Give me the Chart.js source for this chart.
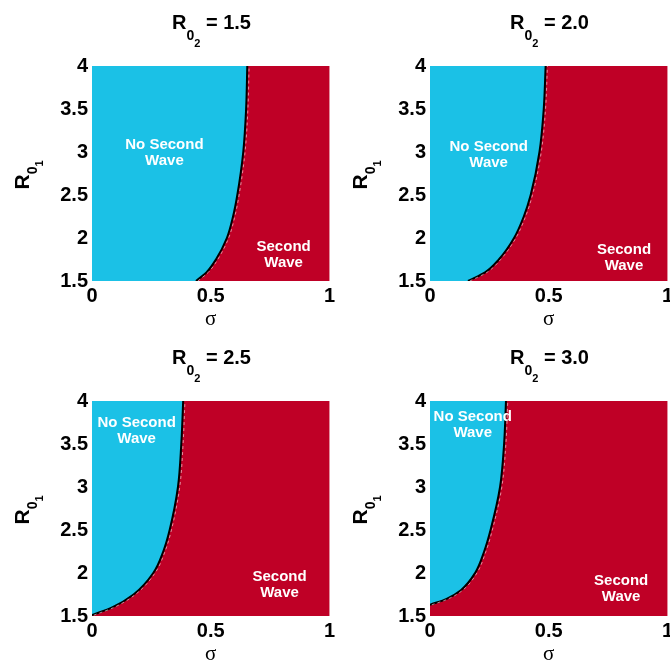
<!DOCTYPE html>
<html lang="en">
<head>
  <meta charset="UTF-8">
  <title>Second wave regions</title>
  <script src="https://cdn.jsdelivr.net/npm/chart.js"></script>
  <style>
    body { margin: 0; background: #fff; width: 670px; height: 666px; overflow: hidden; position: relative;
           font-family: 'Liberation Sans', Arial, sans-serif; }
    .panel { position: absolute; width: 338px; height: 335px; }
    .panel canvas { position: absolute; left: 0; top: 0; }
    .ttl { position: absolute; top: 12px; left: 92px; width: 239px; text-align: center;
           font-weight: bold; font-size: 20px; line-height: 20px; white-space: nowrap; }
    .ylab { position: absolute; left: -8px; top: 162px; width: 60px; height: 26px; line-height: 26px;
            text-align: center; font-weight: bold; font-size: 21px; transform: rotate(-90deg); white-space: nowrap; }
    .s1 { font-size: 14px; position: relative; top: 11px; }
    .s2 { font-size: 11px; position: relative; top: 7px; }
    .ylab .s1 { top: 8px; }
    .ylab .s2 { top: 6px; }
  </style>
</head>
<body>
  <div class="panel" style="left:0;top:0">
    <canvas id="p1" width="338" height="335"></canvas>
    <div class="ttl">R<span class="s1">0<span class="s2">2</span></span> = 1.5</div>
    <div class="ylab">R<span class="s1">0<span class="s2">1</span></span></div>
  </div>
  <div class="panel" style="left:338px;top:0">
    <canvas id="p2" width="338" height="335"></canvas>
    <div class="ttl">R<span class="s1">0<span class="s2">2</span></span> = 2.0</div>
    <div class="ylab">R<span class="s1">0<span class="s2">1</span></span></div>
  </div>
  <div class="panel" style="left:0;top:335px">
    <canvas id="p3" width="338" height="335"></canvas>
    <div class="ttl">R<span class="s1">0<span class="s2">2</span></span> = 2.5</div>
    <div class="ylab">R<span class="s1">0<span class="s2">1</span></span></div>
  </div>
  <div class="panel" style="left:338px;top:335px">
    <canvas id="p4" width="338" height="335"></canvas>
    <div class="ttl">R<span class="s1">0<span class="s2">2</span></span> = 3.0</div>
    <div class="ylab">R<span class="s1">0<span class="s2">1</span></span></div>
  </div>

  <script>
    // boundary curves: sigma value of the threshold for each R0_1
    const r01_a = [1.5, 1.6, 1.75, 2.0, 2.25, 2.5, 3.0, 3.5, 4.0];
    const sigma_a = [0.438, 0.482, 0.522, 0.568, 0.594, 0.612, 0.637, 0.649, 0.654];   // R0_2 = 1.5

    const r01_b = [1.5, 1.6, 1.75, 2.0, 2.25, 2.5, 3.0, 3.5, 4.0];
    const sigma_b = [0.16, 0.232, 0.29, 0.354, 0.395, 0.424, 0.461, 0.479, 0.487]; // R0_2 = 2.0

    const r01_c = [1.51, 1.6, 1.75, 2.0, 2.25, 2.5, 3.0, 3.5, 4.0];
    const sigma_c = [0.0, 0.085, 0.175, 0.258, 0.3, 0.327, 0.362, 0.376, 0.384];   // R0_2 = 2.5

    const r01_d = [1.63, 1.7, 1.8, 2.0, 2.25, 2.5, 3.0, 3.5, 4.0];
    const sigma_d = [0.0, 0.07, 0.13, 0.19, 0.228, 0.255, 0.295, 0.312, 0.32]; // R0_2 = 3.0

    const sigmaTicks = [0, 0.5, 1];
    const r01Ticks = [1.5, 2, 2.5, 3, 3.5, 4];

    const CYAN = '#1bc1e6';
    const RED = '#bf0026';
    const FONT = "'Liberation Sans', Arial, sans-serif";

    function makePanel(id, sig, r0, labels) {
      const regions = {
        id: 'regions',
        beforeDatasetsDraw(chart) {
          const a = chart.chartArea, c = chart.ctx;
          c.save();
          c.fillStyle = RED;
          c.fillRect(a.left, a.top, a.right - a.left, a.bottom - a.top);
          c.restore();
        },
        afterDatasetsDraw(chart) {
          const a = chart.chartArea, c = chart.ctx, xs = chart.scales.x, ys = chart.scales.y;
          // faint white dashes along the red side of the boundary
          const line = chart.getDatasetMeta(0).dataset;
          c.save();
          c.beginPath();
          c.rect(a.left, a.top, a.right - a.left, a.bottom - a.top);
          c.clip();
          c.translate(1.8, 0);
          c.beginPath();
          line.path(c);
          c.setLineDash([3, 3]);
          c.strokeStyle = 'rgba(255,255,255,0.7)';
          c.lineWidth = 0.8;
          c.stroke();
          c.restore();

          c.save();
          c.fillStyle = '#fff';
          c.font = 'bold 15px ' + FONT;
          c.textAlign = 'center';
          c.textBaseline = 'middle';
          labels.forEach(l => {
            const x = xs.getPixelForValue(l.x);
            const y = ys.getPixelForValue(l.y);
            c.fillText(l.lines[0], x, y - 8);
            c.fillText(l.lines[1], x, y + 8);
          });
          c.restore();
        }
      };

      new Chart(document.getElementById(id), {
        type: 'line',
        data: {
          datasets: [{
            data: r0.map((r, i) => ({ x: sig[i], y: r })),
            borderColor: '#000',
            borderWidth: 2,
            backgroundColor: CYAN,
            fill: { value: 0 },
            pointRadius: 0,
            cubicInterpolationMode: 'monotone'
          }]
        },
        options: {
          indexAxis: 'y',
          responsive: false,
          animation: false,
          layout: { padding: { top: 66, right: 5, left: 0, bottom: 0 } },
          plugins: { legend: { display: false }, tooltip: { enabled: false } },
          scales: {
            x: {
              type: 'linear', min: 0, max: 1,
              afterBuildTicks: s => { s.ticks = sigmaTicks.map(v => ({ value: v })); },
              ticks: { color: '#000', padding: 3, callback: v => String(v),
                       font: { family: FONT, size: 20, weight: 'bold' } },
              grid: { display: false, drawTicks: false },
              border: { display: false },
              title: { display: true, text: 'σ', color: '#000',
                       font: { family: "'Liberation Serif', 'Times New Roman', serif", size: 21 },
                       padding: { top: 0, bottom: 3 } },
              afterFit: s => { s.height = 54; }
            },
            y: {
              type: 'linear', min: 1.5, max: 4,
              afterBuildTicks: s => { s.ticks = r01Ticks.map(v => ({ value: v })); },
              ticks: { color: '#000', padding: 4, callback: v => String(v),
                       font: { family: FONT, size: 20, weight: 'bold' } },
              grid: { display: false, drawTicks: false },
              border: { display: false },
              afterFit: s => { s.width = 92; }
            }
          }
        },
        plugins: [regions]
      });
    }

    makePanel('p1', sigma_a, r01_a, [
      { x: 0.305, y: 2.99, lines: ['No Second', 'Wave'] },
      { x: 0.807, y: 1.8, lines: ['Second', 'Wave'] }
    ]);
    makePanel('p2', sigma_b, r01_b, [
      { x: 0.247, y: 2.97, lines: ['No Second', 'Wave'] },
      { x: 0.817, y: 1.77, lines: ['Second', 'Wave'] }
    ]);
    makePanel('p3', sigma_c, r01_c, [
      { x: 0.188, y: 3.65, lines: ['No Second', 'Wave'] },
      { x: 0.79, y: 1.865, lines: ['Second', 'Wave'] }
    ]);
    makePanel('p4', sigma_d, r01_d, [
      { x: 0.18, y: 3.725, lines: ['No Second', 'Wave'] },
      { x: 0.805, y: 1.815, lines: ['Second', 'Wave'] }
    ]);
  </script>
</body>
</html>
